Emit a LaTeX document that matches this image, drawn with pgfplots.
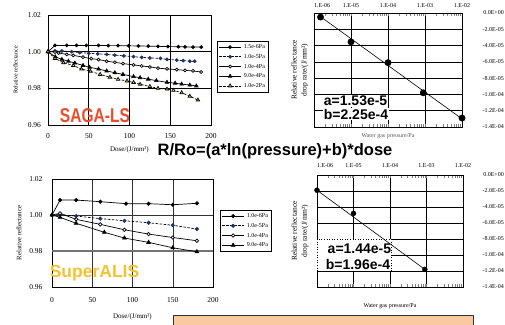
\documentclass[border=0pt]{standalone}
\usepackage{pgfplots}
\pgfplotsset{compat=1.18}
\usepackage{graphicx}
\usepackage{fontspec}
\setmainfont{Liberation Serif}
\newfontfamily\arial{Liberation Sans}
\definecolor{sagared}{RGB}{236,76,44}
\definecolor{superyel}{RGB}{242,196,48}
\definecolor{dkblue}{RGB}{30,50,110}
\definecolor{tryel}{RGB}{225,205,80}
\definecolor{peach}{RGB}{251,201,160}
\pgfplotsset{
  mybase/.style={
    scale only axis, clip=false,
    axis line style={black, line width=0.9pt},
    major tick length=0pt,
    grid=major, major grid style={black, line width=0.5pt},
    tick label style={font=\fontsize{7.5}{8}\selectfont},
    /pgf/number format/assume math mode=true,
    scaled y ticks=false, scaled x ticks=false,
    legend cell align=left,
    legend image code/.code={\draw[mark repeat=2,mark phase=2] plot coordinates {(0pt,0pt)(11pt,0pt)(22pt,0pt)};},
  },
  leg/.style={legend style={draw=black, line width=0.5pt, fill=white,
    font=\fontsize{6}{6}\selectfont, inner xsep=1.5pt, inner ysep=1pt, row sep=0pt,
    nodes={inner sep=2.3pt, text height=4.3pt, text depth=0.8pt}}},
  dashs/.style={dash pattern=on 2.5pt off 1.5pt},
}
\begin{document}
\begin{tikzpicture}[x=1pt,y=1pt]
\useasboundingbox (0,0) rectangle (505,-324);

% ---------- Panel A: SAGA-LS ----------
\begin{axis}[mybase, leg, at={(48pt,-125pt)}, anchor=south west, width=163pt, height=110pt,
  xmin=0, xmax=200, ymin=0.96, ymax=1.02,
  xtick={0,50,100,150,200}, ytick={0.96,0.98,1.00,1.02},
  yticklabel style={/pgf/number format/fixed,/pgf/number format/fixed zerofill,/pgf/number format/precision=2, xshift=-3.5pt},
  xticklabel style={yshift=-5pt},
  ylabel={Relative reflectance},
  ylabel style={font=\fontsize{6}{7}\selectfont, at={(axis description cs:-0.165,0.5)}, anchor=south},
  xlabel={Dose/(J/mm²)},
  xlabel style={font=\fontsize{7}{8}\selectfont, at={(axis description cs:0.5,0)}, anchor=center, yshift=-25pt},
  legend style={at={(1,1)}, anchor=north west, xshift=6pt, yshift=-26pt},
]
\addplot[black, line width=0.7pt, mark=*, mark size=1.5pt, mark options={solid, fill=black}] coordinates {
(0,1.0000) (8.6,1.0034) (23,1.0034) (35,1.0034) (47,1.0034) (62,1.0034) (74,1.0033) (86,1.0033) (99,1.0032) (111,1.0031) (123,1.0030) (135,1.0029) (147,1.0028) (160,1.0027) (168,1.0026) (178,1.0025) (188,1.0025)};
\addlegendentry{1.5e-6Pa}
\addplot[black, dashs, line width=0.7pt, mark=*, mark size=1.5pt, mark options={solid, fill=dkblue, draw=dkblue}] coordinates {
(0,1.0000) (8.6,1.0004) (17,1.0004) (29,1.0000) (39,0.9995) (50,0.9991) (61,0.9988) (72,0.9985) (82,0.9981) (93,0.9977) (105,0.9973) (115,0.9969) (125,0.9966) (138,0.9963) (146,0.9958) (158,0.9954) (166,0.9951) (174,0.9948) (180,0.9948)};
\addlegendentry{1.0e-5Pa}
\addplot[black, line width=0.7pt, mark=*, mark size=1.5pt, mark options={solid, fill=white, draw=black}] coordinates {
(0,1.0000) (8.6,0.9998) (13,0.9993) (23,0.9985) (31,0.9980) (43,0.9970) (53,0.9962) (62,0.9957) (72,0.9948) (82,0.9942) (92,0.9935) (105,0.9928) (115,0.9922) (125,0.9917) (135,0.9910) (146,0.9906) (158,0.9902) (168,0.9898) (178,0.9895) (188,0.9889)};
\addlegendentry{1.0e-4Pa}
\addplot[black, line width=0.7pt, mark=triangle*, mark size=2pt, mark options={solid, fill=black}] coordinates {
(0,1.0000) (9,0.9972) (17,0.9958) (25,0.9948) (33,0.9938) (43,0.9925) (51,0.9915) (62,0.9905) (72,0.9895) (82,0.9885) (92,0.9876) (105,0.9864) (113,0.9858) (123,0.9850) (133,0.9842) (146,0.9833) (156,0.9828) (164,0.9823) (174,0.9818) (182,0.9813)};
\addlegendentry{9.0e-4Pa}
\addplot[black, dashs, line width=0.7pt, mark=triangle*, mark size=2pt, mark options={solid, fill=tryel, draw=black}] coordinates {
(0,1.0000) (8.6,0.9963) (19,0.9940) (31,0.9925) (41,0.9905) (52,0.9893) (64,0.9876) (76,0.9861) (86,0.9849) (97,0.9840) (105,0.9832) (113,0.9822) (125,0.9810) (135,0.9800) (146,0.9796) (154,0.9789) (164,0.9776) (174,0.9757) (184,0.9736)};
\addlegendentry{1.0e-2Pa}
\end{axis}

% ---------- Panel B ----------
\begin{axis}[mybase, at={(314pt,-127pt)}, anchor=south west, width=148pt, height=114pt,
  xmode=log, xmin=1e-6, xmax=1e-2, ymin=-1.4e-4, ymax=0,
  xtick={1e-6,1e-5,1e-4,1e-3,1e-2},
  xticklabels={\makebox[0pt][l]{1.E-06},1.E-05,1.E-04,1.E-03,1.E-02},
  xticklabel pos=upper,
  ytick={0,-2e-5,-4e-5,-6e-5,-8e-5,-1e-4,-1.2e-4,-1.4e-4},
  yticklabels={0.0E+00,-2.0E-05,-4.0E-05,-6.0E-05,-8.0E-05,-1.0E-04,-1.2E-04,-1.4E-04},
  yticklabel pos=right,
  tick label style={font=\fontsize{6}{6}\selectfont},
  yticklabel style={anchor=east, inner sep=0pt, xshift=42pt},
  xticklabel style={yshift=1.5pt},
  ylabel={Relative reflectance\\drop rate/(J/mm²)},
  ylabel style={font=\fontsize{7.5}{10}\selectfont, align=center, at={(axis description cs:-0.015,0.5)}, anchor=south},
  xlabel={Water gas pressure/Pa},
  xlabel style={font=\fontsize{6}{7}\selectfont, text=black!65, at={(axis description cs:0.5,0)}, anchor=center, yshift=-9pt},
]
\addplot[black, line width=0.6pt] coordinates {(1.5e-6,-4.5e-6) (1e-2,-1.30e-4)};
\addplot[only marks, mark=*, mark size=3.2pt, black] coordinates {
(1.5e-6,-5e-6) (1e-5,-3.55e-5) (1e-4,-6.1e-5) (9e-4,-9.8e-5) (1e-2,-1.29e-4)};
\node[fill=white, inner sep=0.6pt, anchor=west, font=\arial\bfseries\fontsize{14}{14}\selectfont] at (rel axis cs:0.061,0.228) {a=1.53e-5};
\node[fill=white, inner sep=0.6pt, anchor=west, font=\arial\bfseries\fontsize{14}{14}\selectfont] at (rel axis cs:0.061,0.114) {b=2.25e-4};
\end{axis}

% ---------- Panel C: SuperALIS ----------
\begin{axis}[mybase, leg, at={(52pt,-287pt)}, anchor=south west, width=161pt, height=108pt,
  xmin=0, xmax=200, ymin=0.96, ymax=1.02,
  xtick={0,50,100,150,200}, ytick={0.96,0.98,1.00,1.02},
  major grid style={black!80, line width=0.5pt},
  yticklabel style={/pgf/number format/fixed,/pgf/number format/fixed zerofill,/pgf/number format/precision=2, xshift=-6pt},
  xticklabel style={yshift=-7pt},
  ylabel={Relative reflectance},
  ylabel style={font=\fontsize{6.8}{7}\selectfont, at={(axis description cs:-0.168,0.5)}, anchor=south},
  xlabel={Dose/(J/mm²)},
  xlabel style={font=\fontsize{7}{8}\selectfont, at={(axis description cs:0.5,0)}, anchor=center, yshift=-30pt},
  legend style={at={(1,1)}, anchor=north west, xshift=7pt, yshift=-31pt},
]
\draw[black!55, line width=1.6pt] (axis cs:0,0.98) -- (axis cs:200,0.98);
\addplot[black, line width=0.7pt, mark=*, mark size=1.7pt, mark options={solid, fill=black}] coordinates {
(0,1.0000) (10,1.0083) (30,1.0083) (60,1.0074) (92,1.0063) (120,1.0063) (150,1.0057) (180,1.0065)};
\addlegendentry{1.0e-6Pa}
\addplot[black, dashs, line width=0.7pt, mark=*, mark size=1.7pt, mark options={solid, fill=dkblue, draw=dkblue}] coordinates {
(0,1.0000) (10,1.0002) (30,0.9994) (60,0.9980) (90,0.9968) (120,0.9957) (150,0.9943) (180,0.9922)};
\addlegendentry{1.0e-5Pa}
\addplot[black, line width=0.7pt, mark=*, mark size=1.7pt, mark options={solid, fill=white, draw=black}] coordinates {
(0,1.0000) (10,1.0009) (30,0.9976) (60,0.9948) (90,0.9918) (120,0.9894) (150,0.9875) (180,0.9857)};
\addlegendentry{1.0e-4Pa}
\addplot[black, line width=0.7pt, mark=triangle*, mark size=2.1pt, mark options={solid, fill=black}] coordinates {
(0,1.0000) (10,0.9987) (30,0.9954) (65,0.9904) (90,0.9872) (120,0.9848) (150,0.9818) (180,0.9796)};
\addlegendentry{9.0e-4Pa}
\end{axis}

% ---------- Panel D ----------
\begin{axis}[mybase, at={(317pt,-287pt)}, anchor=south west, width=146pt, height=112pt,
  xmode=log, xmin=1e-6, xmax=1e-2, ymin=-1.4e-4, ymax=0,
  xtick={1e-6,1e-5,1e-4,1e-3,1e-2},
  xticklabels={\makebox[0pt][l]{1.E-06},1.E-05,1.E-04,1.E-03,1.E-02},
  xticklabel pos=upper,
  ytick={0,-2e-5,-4e-5,-6e-5,-8e-5,-1e-4,-1.2e-4,-1.4e-4},
  yticklabels={0.0E+00,-2.0E-05,-4.0E-05,-6.0E-05,-8.0E-05,-1.0E-04,-1.2E-04,-1.4E-04},
  yticklabel pos=right,
  tick label style={font=\fontsize{6}{6}\selectfont},
  yticklabel style={anchor=east, inner sep=0pt, xshift=41pt},
  xticklabel style={yshift=3.5pt},
  ylabel={Relative reflectance\\drop rate/(J/mm²)},
  ylabel style={font=\fontsize{7.5}{10}\selectfont, align=center, at={(axis description cs:-0.034,0.5)}, anchor=south},
  xlabel={Water gas pressure/Pa},
  xlabel style={font=\fontsize{6}{7}\selectfont, at={(axis description cs:0.5,0)}, anchor=center, yshift=-19pt},
]
\filldraw[fill=white, draw=black, dotted, line width=0.6pt] (axis cs:1e-6,-8e-5) rectangle (axis cs:1.1e-4,-1.2e-4);
\addplot[black, line width=0.6pt] coordinates {(1e-6,-1.9e-5) (9e-4,-1.18e-4)};
\addplot[only marks, mark=*, mark size=2.5pt, black] coordinates {
(1e-6,-1.9e-5) (1e-5,-4.8e-5) (9e-4,-1.18e-4)};
\node[inner sep=0.6pt, anchor=west, font=\arial\bfseries\fontsize{14}{14}\selectfont] at (rel axis cs:0.068,0.345) {a=1.44e-5};
\node[inner sep=0.6pt, anchor=west, font=\arial\bfseries\fontsize{14}{14}\selectfont] at (rel axis cs:0.055,0.205) {b=1.96e-4};
\end{axis}

% ---------- annotations ----------
\node[anchor=base, font=\arial\bfseries\fontsize{16.5}{16.5}\selectfont, inner sep=0pt] at (275,-155) {R/Ro=(a*ln(pressure)+b)*dose};
\node[anchor=base, text=sagared, font=\arial\bfseries\fontsize{20}{20}\selectfont, inner sep=0pt] at (95,-122) {\scalebox{0.78}[1]{SAGA-LS}};
\node[anchor=base, text=superyel, font=\arial\bfseries\fontsize{17.5}{17.5}\selectfont, inner sep=0pt] at (94.5,-277) {SuperALIS};
\draw[fill=peach, draw=black!80, line width=0.8pt] (173,-315) rectangle (473,-332);
\end{tikzpicture}
\end{document}
